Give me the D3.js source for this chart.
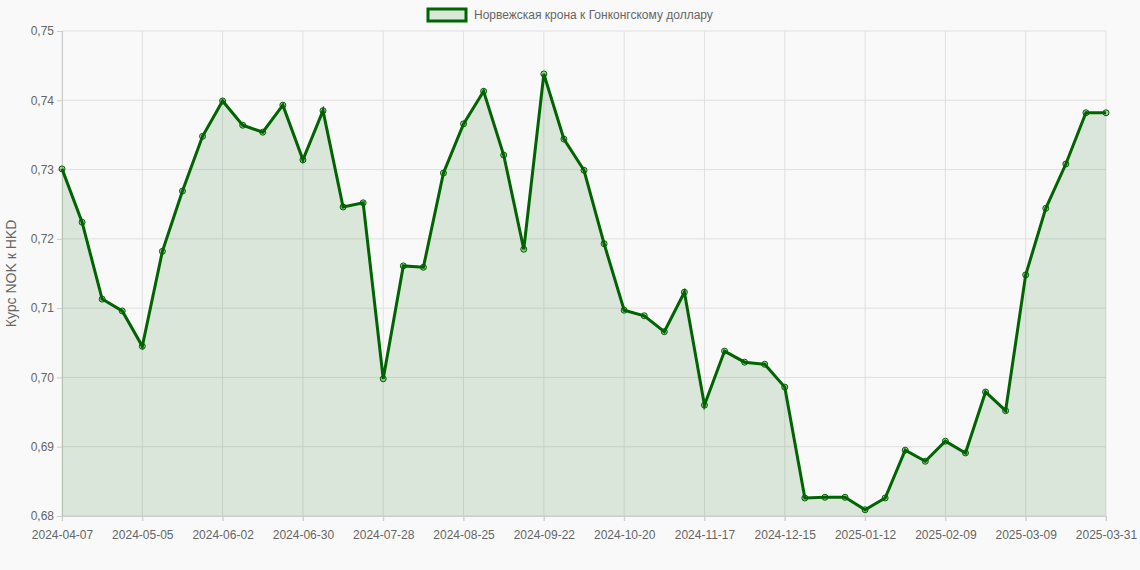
<!DOCTYPE html>
<html><head><meta charset="utf-8">
<script src="https://cdn.jsdelivr.net/npm/d3@7"></script>
<style>body{margin:0;background:#f9f9f9;font-family:"Liberation Sans",Arial,sans-serif}</style>
</head><body><svg id="c" width="1140" height="570"></svg>
<script>
var values = [0.7301,0.7224,0.7113,0.7096,0.7045,0.7182,0.7269,0.7348,0.7399,0.7364,0.7354,0.7393,0.7314,0.7385,0.7246,0.7252,0.6998,0.7161,0.7159,0.7295,0.7366,0.7413,0.7321,0.7185,0.7438,0.7344,0.7299,0.7193,0.7097,0.7089,0.7066,0.7123,0.6960,0.7038,0.7022,0.7019,0.6986,0.6826,0.6827,0.6827,0.6809,0.6826,0.6895,0.6879,0.6908,0.6891,0.6979,0.6952,0.7148,0.7244,0.7308,0.7382,0.7382];
var yTicks = [0.68,0.69,0.70,0.71,0.72,0.73,0.74,0.75];
var seriesName = 'Норвежская крона к Гонконгскому доллару';

var fmt = d3.utcFormat('%Y-%m-%d');
var dates = values.map(function(v, i) {
  return i === values.length - 1 ? '2025-03-31' : fmt(new Date(Date.UTC(2024, 3, 7 + 7 * i)));
});
var labelIdx = d3.range(0, values.length - 1, 4).concat([values.length - 1]);

var svg = d3.select('#c');
var m = {l: 62, r: 34, t: 31, b: 54};
var W = 1140, H = 570;
var x = d3.scaleLinear().domain([0, values.length - 1]).range([m.l, W - m.r]);
var y = d3.scaleLinear().domain([0.68, 0.75]).range([H - m.b, m.t]);

var grid = svg.append('g').attr('stroke', '#e0e0e0');
yTicks.forEach(function(t) {
  grid.append('line').attr('x1', m.l).attr('x2', W - m.r).attr('y1', y(t)).attr('y2', y(t));
});
labelIdx.forEach(function(i) {
  grid.append('line').attr('x1', x(i)).attr('x2', x(i)).attr('y1', m.t).attr('y2', H - m.b + 5);
});

var ya = svg.append('g').attr('transform', 'translate(' + m.l + ',0)')
  .call(d3.axisLeft(y).tickValues(yTicks).tickFormat(function(d) { return d3.format('.2f')(d).replace('.', ','); }).tickSize(5));
var xa = svg.append('g').attr('transform', 'translate(0,' + (H - m.b) + ')')
  .call(d3.axisBottom(x).tickValues(labelIdx).tickFormat(function(i) { return dates[i]; }).tickSize(5).tickPadding(9));
[ya, xa].forEach(function(a) {
  a.selectAll('path,line').attr('stroke', '#ccc');
  a.selectAll('text').attr('fill', '#666').attr('font-size', 12);
});

svg.append('path').datum(values)
  .attr('d', d3.area().x(function(d, i) { return x(i); }).y0(y(0.68)).y1(function(d) { return y(d); }))
  .attr('fill', 'rgba(0,100,0,0.12)');
svg.append('path').datum(values)
  .attr('d', d3.line().x(function(d, i) { return x(i); }).y(function(d) { return y(d); }))
  .attr('fill', 'none').attr('stroke', '#006400').attr('stroke-width', 3);
svg.selectAll('circle.p').data(values).join('circle')
  .attr('cx', function(d, i) { return x(i); }).attr('cy', function(d) { return y(d); })
  .attr('r', 3).attr('fill', 'rgba(0,100,0,0.3)').attr('stroke', '#006400').attr('stroke-width', 1);

svg.append('text').attr('transform', 'translate(16,' + ((m.t + H - m.b) / 2) + ') rotate(-90)')
  .attr('text-anchor', 'middle').attr('fill', '#666').attr('font-size', 14).text('Курс NOK к HKD');

svg.append('rect').attr('x', 428).attr('y', 9).attr('width', 38).attr('height', 12)
  .attr('fill', 'rgba(0,100,0,0.12)').attr('stroke', '#006400').attr('stroke-width', 3);
svg.append('text').attr('x', 474).attr('y', 19).attr('fill', '#666').attr('font-size', 12).text(seriesName);
</script></body></html>
